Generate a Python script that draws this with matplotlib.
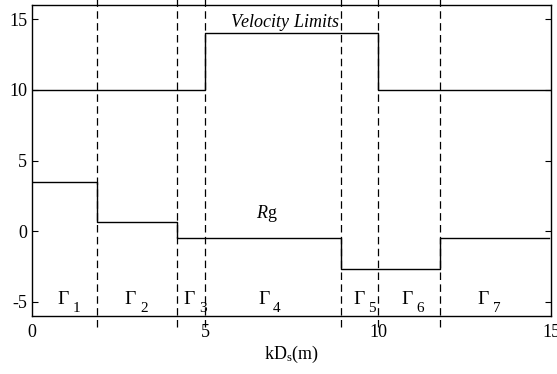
import matplotlib
matplotlib.use("Agg")
import matplotlib.pyplot as plt

plt.rcParams['font.family'] = ['Liberation Serif', 'DejaVu Serif']
plt.rcParams['mathtext.fontset'] = 'custom'
plt.rcParams['mathtext.rm'] = 'Liberation Serif'
plt.rcParams['mathtext.it'] = 'Liberation Serif:italic'

# data
boundaries = [0, 1.88, 4.19, 5.0, 8.93, 10.0, 11.79, 15]
vel_edges = [0, 5.0, 10.0, 15]
vel_values = [10, 14, 10]
rg_edges = [0, 1.88, 4.19, 8.93, 11.79, 14.93]
rg_values = [3.5, 0.65, -0.5, -2.65, -0.5]
region_labels = ["1", "2", "3", "4", "5", "6", "7"]
region_x = [0.9, 2.85, 4.55, 6.7, 9.45, 10.85, 13.05]
xticks = [0, 5, 10, 15]
yticks = [-5, 0, 5, 10, 15]

fig = plt.figure(figsize=(5.57, 3.74), dpi=100)
ax = fig.add_axes([32/557, 1-316/374, (551-32)/557, (316-5)/374])

def step_xy(edges, vals):
    xs, ys = [], []
    for i, v in enumerate(vals):
        xs += [edges[i], edges[i+1]]
        ys += [v, v]
    return xs, ys

x, y = step_xy(vel_edges, vel_values)
ax.plot(x, y, color='black', lw=1.0)
x, y = step_xy(rg_edges, rg_values)
ax.plot(x, y, color='black', lw=1.0)

for b in boundaries[1:-1]:
    ax.plot([b, b], [-6.75, 16.4], color='black', lw=0.9, ls=(0, (6, 3.5)), clip_on=False)

ax.set_xlim(0, 15)
ax.set_ylim(-6, 16)
ax.set_xticks(xticks)
ax.set_yticks(yticks)
ax.set_yticklabels([str(t) for t in yticks])
ax.tick_params(axis='y', direction='in', right=True, length=4, labelsize=13)
ax.tick_params(axis='x', direction='in', top=False, length=0, labelsize=13, pad=6)
for s in ax.spines.values():
    s.set_linewidth(1.0)

ax.set_xlabel(r'kD$_{\rm s}$(m)', fontsize=13, labelpad=2)

ax.text(7.3, 14.75, r'$Velocity\ Limits$', fontsize=13, ha='center', va='center')
ax.text(6.8, 1.25, r'$R$g', fontsize=13, ha='center', va='center')

for lab, xc in zip(region_labels, region_x):
    ax.text(xc, -4.85, r'$\Gamma$', fontsize=14, ha='center', va='center')
    ax.text(xc + 0.38, -5.5, lab, fontsize=11, ha='center', va='center')

fig.savefig('out.png', dpi=100)
